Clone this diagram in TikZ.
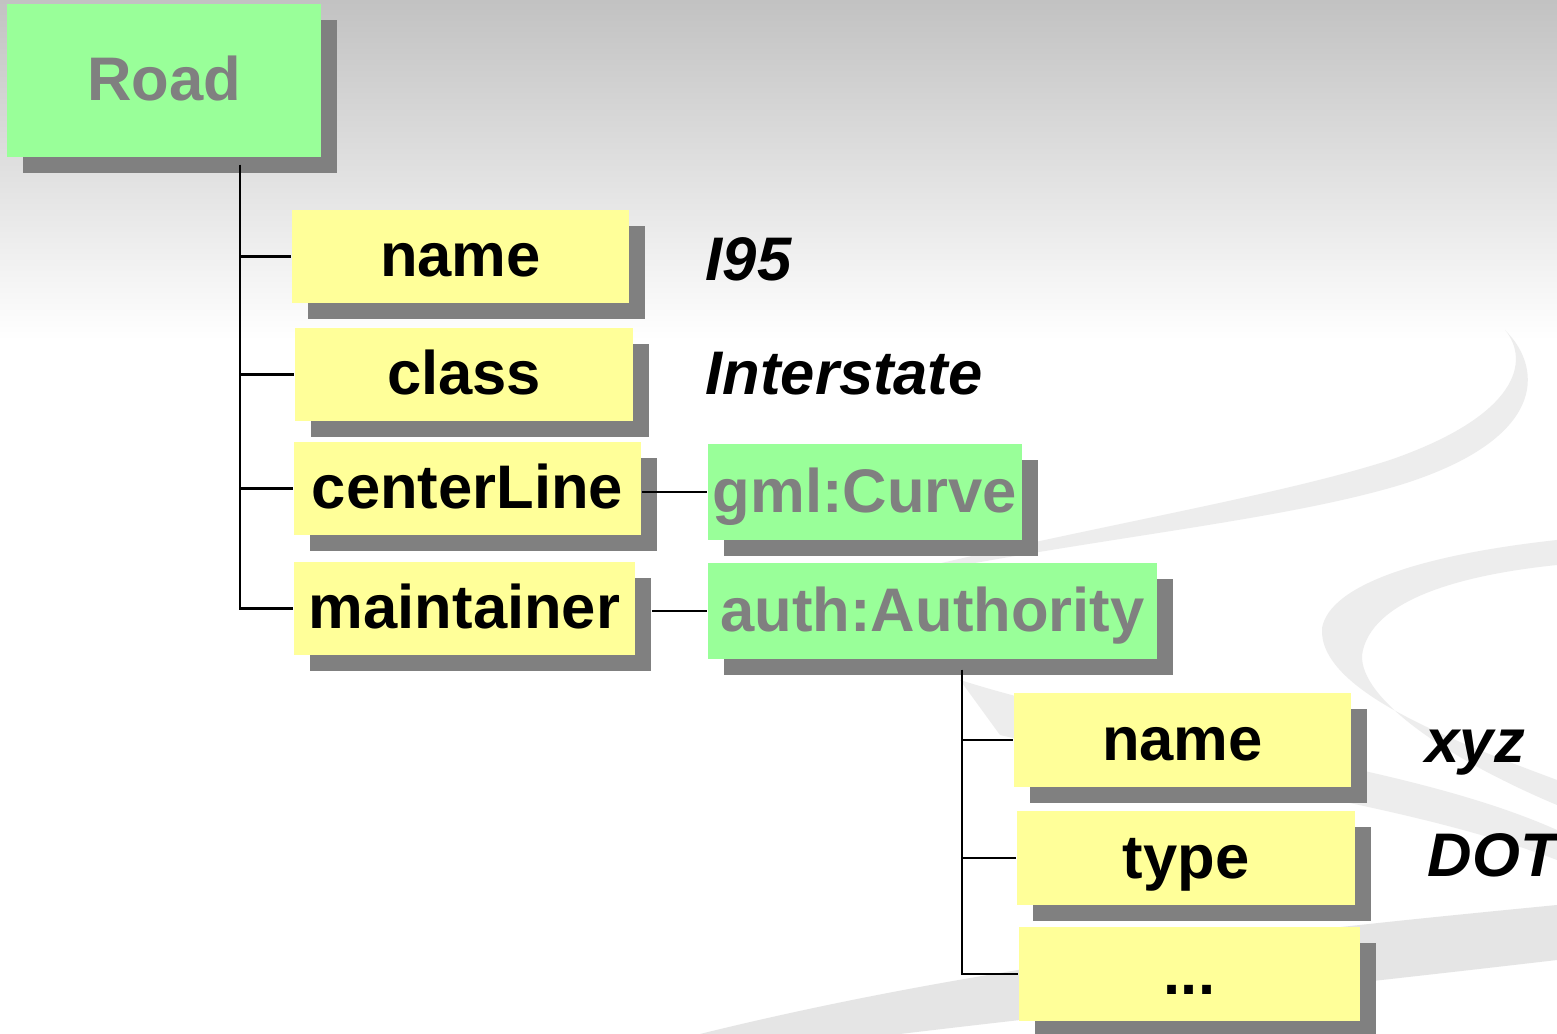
\documentclass[tikz,border=0pt]{standalone}
\usepackage{fontspec}
\setmainfont{Liberation Sans}
\usetikzlibrary{shadows}
\definecolor{boxgreen}{HTML}{99FF99}
\definecolor{boxyellow}{HTML}{FFFF99}
\definecolor{shadowgray}{HTML}{808080}
\begin{document}
\begin{tikzpicture}[x=0.01cm,y=-0.01cm,
    box/.style={drop shadow={shadow xshift=0.16cm,shadow yshift=-0.16cm,fill=shadowgray,opacity=1},
      inner sep=0pt,minimum height=0.93cm,text height=0.4cm,text depth=0cm,
      font=\fontsize{17.5}{20}\selectfont\bfseries},
    cls/.style={box,fill=boxgreen,text=shadowgray},
    prop/.style={box,fill=boxyellow,text=black},
    val/.style={anchor=base west,inner sep=0pt,font=\fontsize{17.5}{20}\selectfont\bfseries\itshape},
    link/.style={line width=0.7pt},
    swirl/.style={fill=black!7,draw=none}]
  \useasboundingbox (0,0) rectangle (1557,1034);
  % background
  \fill[white] (0,0) rectangle (1557,1034);
  \shade[top color=black!24,bottom color=white] (0,0) rectangle (1557,340);
  \fill[swirl] (1505,330) .. controls (1545,370) and (1545,440) .. (1400,485)
    .. controls (1250,530) and (1000,545) .. (760,610)
    .. controls (1000,540) and (1250,505) .. (1390,460)
    .. controls (1520,415) and (1530,360) .. (1505,330) -- cycle;
  \fill[swirl] (1557,540) .. controls (1420,555) and (1330,585) .. (1322,628)
    .. controls (1318,690) and (1450,740) .. (1557,780) -- (1557,805)
    .. controls (1450,760) and (1360,700) .. (1362,655)
    .. controls (1370,600) and (1460,575) .. (1557,565) -- cycle;
  \fill[swirl] (960,680) .. controls (1150,740) and (1400,760) .. (1557,830) -- (1557,860)
    .. controls (1400,800) and (1150,770) .. (1000,735) -- cycle;
  \fill[black!10] (700,1034) .. controls (1000,960) and (1300,930) .. (1557,905)
    -- (1557,960) .. controls (1300,990) and (1100,1010) .. (900,1034) -- cycle;
  % boxes
  \node[cls,minimum width=3.14cm,minimum height=1.53cm] (road) at (164,80.5) {Road};
  \node[prop,minimum width=3.37cm] (name) at (460.5,256.5) {name};
  \node[prop,minimum width=3.38cm] (class) at (464,374.5) {class};
  \node[prop,minimum width=3.47cm] (centerLine) at (467.5,488.5) {centerLine};
  \node[prop,minimum width=3.41cm] (maintainer) at (464.5,608.5) {maintainer};
  \node[cls,minimum width=3.14cm,minimum height=0.96cm] (curve) at (865,492) {gml:Curve};
  \node[cls,minimum width=4.49cm,minimum height=0.96cm] (authority) at (932.5,611) {auth:Authority};
  \node[prop,minimum width=3.37cm,minimum height=0.94cm] (authName) at (1182.5,740) {name};
  \node[prop,minimum width=3.38cm,minimum height=0.94cm] (authType) at (1186,858) {type};
  \node[prop,minimum width=3.41cm,minimum height=0.94cm] (more) at (1189.5,974) {...};
  % values
  \node[val] (nameVal) at (705,281) {I95};
  \node[val] (classVal) at (705,395) {Interstate};
  \node[val] (authNameVal) at (1425,763) {xyz};
  \node[val] (authTypeVal) at (1427,877) {DOT};
  % connectors
  \coordinate (roadTrunk) at (240,165);
  \coordinate (authTrunk) at (962,670);
  \begin{scope}[link]
    \draw (roadTrunk) |- (name.west);
    \draw (roadTrunk) |- (class.west);
    \draw (roadTrunk) |- (centerLine.west);
    \draw (roadTrunk) |- (maintainer.west);
    \draw (centerLine.east |- curve) -- (curve.west);
    \draw ([xshift=0.16cm]maintainer.east |- authority) -- (authority.west);
    \draw (authTrunk) |- (authName.west);
    \draw (authTrunk) |- (authType.west);
    \draw (authTrunk) |- (more.west);
  \end{scope}
\end{tikzpicture}
\end{document}
